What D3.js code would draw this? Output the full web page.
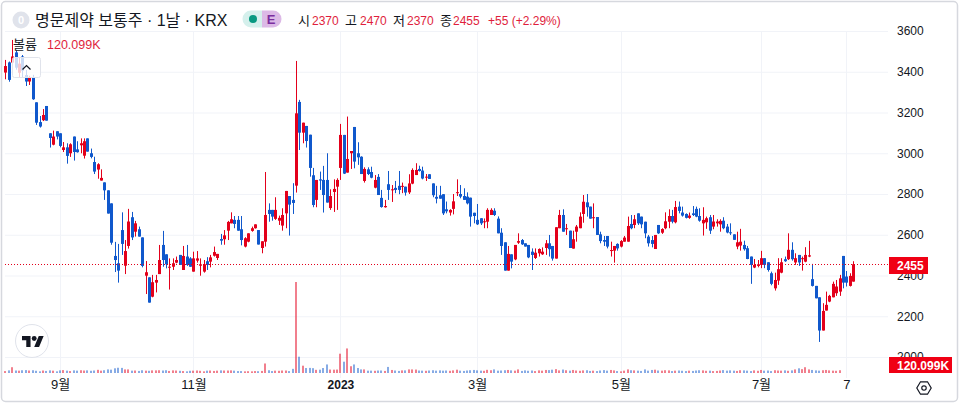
<!DOCTYPE html>
<html>
<head>
<meta charset="utf-8">
<style>
body{margin:0;background:#fff;overflow:hidden}
text{font-family:"Liberation Sans","Noto Sans CJK KR",sans-serif}
</style>
<script src="https://cdn.jsdelivr.net/npm/d3@7"></script>
</head>
<body>
<div id="chart"></div>
<script>
const opens=[3396,3446,3445,3495,3395,3475,3384,3352,3373,3250,3153,3162,3232,3098,3042,3108,3098,3016,3029,3000,3082,3019,3039,2988,3073,3000,2957,2920,2866,2857,2818,2754,2496,2460,2623,2448,2545,2686,2615,2627,2587,2399,2391,2296,2365,2407,2550,2504,2439,2443,2463,2501,2427,2493,2484,2419,2473,2448,2419,2470,2468,2497,2486,2579,2578,2620,2656,2673,2673,2627,2542,2566,2619,2632,2623,2535,2566,2722,2722,2678,2669,2645,2705,2790,2771,2841,3252,3101,3134,3091,2892,2771,2872,2869,2869,2731,2810,2836,2928,3090,2905,3000,3129,3000,2983,2864,2921,2908,2831,2884,2781,2735,2848,2820,2830,2840,2835,2836,2808,2851,2893,2923,2915,2882,2897,2852,2786,2794,2799,2725,2709,2727,2805,2800,2790,2787,2782,2708,2673,2681,2663,2664,2697,2718,2679,2610,2563,2424,2504,2479,2561,2574,2558,2550,2517,2486,2509,2504,2535,2558,2545,2483,2632,2697,2627,2620,2532,2615,2632,2702,2759,2738,2681,2687,2602,2574,2594,2520,2522,2555,2542,2566,2566,2653,2648,2705,2689,2664,2591,2574,2530,2648,2610,2632,2664,2692,2661,2738,2709,2702,2683,2705,2727,2692,2656,2661,2686,2640,2656,2651,2669,2640,2612,2602,2542,2547,2550,2534,2493,2439,2447,2452,2485,2465,2411,2337,2375,2414,2480,2480,2526,2464,2501,2480,2468,2493,2382,2349,2293,2130,2228,2272,2293,2313,2321,2496,2395,2349,2370];
const highs=[3458,3450,3556,3505,3470,3482,3409,3380,3385,3250,3183,3217,3232,3098,3111,3108,3098,3055,3049,3049,3082,3059,3073,3073,3073,3023,2983,2951,2921,2857,2818,2754,2565,2555,2710,2574,2727,2712,2668,2640,2587,2471,2391,2403,2403,2550,2619,2504,2484,2484,2493,2501,2545,2550,2490,2517,2520,2484,2476,2490,2501,2542,2506,2604,2623,2668,2710,2692,2692,2692,2588,2607,2640,2651,2623,2568,2908,2754,2722,2784,2694,2730,2815,2790,2853,3453,3262,3150,3134,3091,2928,2869,2910,2938,3000,2823,2872,2877,3144,3090,3180,3011,3129,3054,2985,2931,2931,2934,2893,2898,2820,2771,2913,2844,2864,2913,2856,2836,2897,2926,2951,2939,2934,2898,2897,2852,2840,2840,2799,2763,2725,2800,2872,2844,2828,2808,2782,2708,2751,2681,2680,2730,2730,2730,2690,2632,2563,2545,2504,2550,2607,2579,2558,2550,2533,2533,2533,2538,2574,2599,2545,2637,2722,2725,2653,2620,2620,2648,2710,2795,2800,2738,2754,2687,2615,2594,2594,2566,2545,2558,2574,2594,2689,2697,2697,2705,2689,2664,2599,2594,2599,2648,2632,2710,2725,2722,2766,2763,2738,2705,2709,2741,2738,2730,2735,2689,2697,2697,2676,2676,2686,2653,2656,2602,2615,2629,2571,2545,2493,2481,2476,2521,2485,2465,2419,2414,2485,2485,2493,2607,2563,2509,2501,2493,2539,2570,2457,2349,2293,2264,2321,2305,2370,2378,2403,2496,2422,2411,2470];
const lows=[3363,3351,3440,3410,3370,3370,3330,3335,3262,3139,3126,3158,3160,3028,3039,3068,3029,3006,2949,2982,2964,3003,3000,2974,3008,2975,2898,2875,2866,2771,2704,2551,2417,2365,2501,2407,2532,2574,2591,2591,2440,2309,2267,2293,2317,2407,2443,2435,2331,2427,2460,2452,2427,2447,2443,2419,2463,2399,2414,2427,2440,2493,2476,2551,2551,2574,2656,2632,2620,2548,2538,2563,2615,2630,2552,2509,2542,2664,2669,2673,2648,2620,2632,2596,2702,2807,3016,3049,3028,2885,2735,2735,2820,2709,2758,2722,2712,2722,2869,2898,2905,2923,2926,2943,2898,2856,2893,2877,2828,2795,2733,2733,2771,2761,2804,2799,2804,2792,2800,2848,2893,2910,2872,2864,2874,2784,2754,2777,2697,2705,2694,2700,2790,2779,2771,2749,2640,2656,2648,2648,2632,2632,2697,2692,2607,2501,2424,2424,2435,2475,2555,2550,2542,2485,2427,2481,2493,2501,2501,2493,2473,2483,2632,2615,2599,2535,2532,2566,2632,2659,2689,2679,2632,2599,2558,2545,2533,2493,2463,2522,2538,2566,2566,2627,2632,2648,2632,2583,2542,2538,2530,2604,2604,2627,2632,2656,2656,2705,2689,2680,2678,2692,2686,2664,2596,2629,2604,2627,2640,2615,2627,2607,2599,2575,2529,2522,2522,2480,2359,2436,2440,2436,2436,2419,2352,2326,2354,2411,2467,2476,2473,2452,2447,2424,2465,2490,2346,2288,2074,2130,2228,2269,2293,2300,2300,2337,2346,2346,2370];
const closes=[3428,3360,3475,3420,3440,3405,3352,3373,3265,3150,3131,3188,3160,3075,3082,3082,3036,3029,2987,3044,3006,3005,3049,3059,3008,2982,2910,2946,2879,2818,2704,2561,2476,2424,2555,2520,2665,2587,2656,2591,2447,2416,2267,2367,2378,2476,2476,2455,2443,2460,2476,2452,2496,2452,2443,2484,2484,2455,2455,2452,2489,2515,2506,2571,2597,2663,2676,2653,2620,2574,2583,2607,2632,2651,2552,2568,2697,2702,2689,2722,2683,2697,2815,2748,2756,3196,3101,3150,3060,2928,2746,2869,2866,2795,2758,2790,2825,2869,3090,2900,2972,3011,2959,2980,2898,2923,2898,2880,2869,2795,2736,2741,2820,2823,2820,2820,2840,2807,2852,2918,2918,2913,2876,2885,2874,2794,2777,2777,2705,2715,2722,2764,2809,2787,2771,2754,2689,2692,2651,2656,2666,2722,2722,2697,2607,2545,2424,2506,2468,2550,2569,2553,2542,2489,2501,2512,2530,2517,2558,2529,2483,2637,2697,2615,2632,2535,2578,2640,2689,2762,2735,2679,2686,2599,2569,2566,2542,2525,2545,2533,2569,2586,2643,2632,2676,2656,2651,2607,2558,2555,2599,2607,2628,2666,2692,2664,2736,2717,2694,2683,2694,2697,2689,2669,2673,2681,2620,2665,2665,2668,2632,2611,2609,2575,2563,2566,2529,2481,2452,2452,2455,2485,2452,2427,2359,2378,2431,2465,2470,2526,2480,2485,2464,2485,2501,2499,2349,2288,2130,2226,2256,2300,2359,2346,2386,2365,2365,2398,2455];
const volumes=[70,95,210,90,85,100,105,90,100,80,60,90,75,95,85,60,95,105,85,70,95,85,100,90,95,80,90,115,85,100,130,120,170,190,185,130,130,85,90,75,100,85,80,95,95,100,90,100,75,95,90,80,70,60,80,85,90,80,60,85,90,75,85,95,90,90,95,85,70,70,60,65,60,70,65,75,345,100,70,85,80,90,90,70,150,3300,590,265,180,185,175,115,120,180,310,125,120,125,700,410,890,245,310,180,130,130,85,85,80,90,90,75,220,110,90,75,95,95,130,130,125,90,85,80,90,100,85,95,85,90,80,95,120,85,75,90,100,110,95,85,80,115,100,130,85,90,100,110,95,85,130,75,95,80,90,70,95,85,110,105,120,140,95,125,100,85,110,90,80,95,100,75,85,70,90,105,85,110,95,70,60,85,130,100,95,85,75,130,85,110,120,90,85,100,95,70,85,90,80,70,85,75,90,100,95,80,85,70,75,90,105,85,95,85,75,100,95,85,70,95,80,110,85,90,70,100,90,85,95,80,95,130,170,140,210,130,110,95,85,100,110,95,85,80,100];
const priceTicks=[3600,3400,3200,3000,2800,2600,2400,2200,2000];
const timeBars=[16,55,98,138,180,221,246];
const timeLabels=['9월','11월','2023','3월','5월','7월','7'];
const lastPrice=2455, lastVolume=120.099;

const width=960, height=404;
const upColor='#e3001b', downColor='#1058cc', textRed='#e01e3c', gridColor='#f1f3f8';

const svg=d3.select('#chart').append('svg').attr('width',width).attr('height',height);
const x=d3.scaleLinear().domain([0,closes.length-1]).range([5.33,853.3]);
const y=d3.scaleLinear().domain([3600,2000]).range([31,357]);
const yVol=d3.scaleLinear().domain([0,3300]).range([373,282]);
const bx=i=>Math.round(x(i));

// grid
svg.append('g').selectAll('line').data(priceTicks).enter().append('line')
  .attr('x1',5).attr('x2',888).attr('y1',d=>y(d)+.5).attr('y2',d=>y(d)+.5)
  .attr('stroke',gridColor);
svg.append('g').selectAll('line').data(timeBars).enter().append('line')
  .attr('x1',d=>bx(d)+.5).attr('x2',d=>bx(d)+.5).attr('y1',31).attr('y2',378)
  .attr('stroke',gridColor);

const idx=d3.range(closes.length);
const col=i=>closes[i]>=opens[i]?upColor:downColor;

// volume
svg.append('g').selectAll('rect').data(idx).enter().append('rect')
  .attr('x',i=>bx(i)-1).attr('width',2)
  .attr('y',i=>yVol(volumes[i])).attr('height',i=>373-yVol(volumes[i]))
  .attr('fill',col).attr('opacity',.5);

// candles
svg.append('g').selectAll('line').data(idx).enter().append('line')
  .attr('x1',i=>bx(i)+.5).attr('x2',i=>bx(i)+.5)
  .attr('y1',i=>y(highs[i])).attr('y2',i=>y(lows[i]))
  .attr('stroke',col);
svg.append('g').selectAll('rect').data(idx).enter().append('rect')
  .attr('x',i=>bx(i)-1).attr('width',3)
  .attr('y',i=>y(Math.max(opens[i],closes[i])))
  .attr('height',i=>Math.max(1,Math.abs(y(opens[i])-y(closes[i]))))
  .attr('fill',col);

// last price line
svg.append('line').attr('x1',5).attr('x2',888)
  .attr('y1',Math.round(y(lastPrice))+.5).attr('y2',Math.round(y(lastPrice))+.5)
  .attr('stroke',upColor).attr('stroke-dasharray','1,2');

// axes
const yAxis=d3.axisRight(y).tickValues(priceTicks).tickSize(0).tickPadding(0).tickFormat(d3.format('d'));
const gy=svg.append('g').attr('transform','translate(897,0)').call(yAxis);
gy.select('.domain').remove();
gy.selectAll('text').attr('font-size',12).attr('fill','#131722');

const xAxis=d3.axisBottom(x).tickValues(timeBars).tickSize(0).tickPadding(0)
  .tickFormat((d,i)=>timeLabels[i]);
const gx=svg.append('g').attr('transform','translate(0,380)').call(xAxis);
gx.select('.domain').remove();
gx.selectAll('text').attr('font-size',(d,i)=>timeLabels[i]==='2023'?12:13).attr('fill','#131722')
  .attr('font-weight',(d,i)=>timeLabels[i]==='2023'?700:400);

// price labels
function priceLabel(top,w,h,txt,tx){
  svg.append('rect').attr('x',889).attr('y',top).attr('width',w).attr('height',h).attr('fill','#f00014');
  svg.append('text').attr('x',tx).attr('y',top+h/2+4.5).attr('fill','#fff').attr('font-size',12).attr('font-weight',700).text(txt);
}
priceLabel(Math.round(y(lastPrice))-7,39,17,String(lastPrice),897);
priceLabel(357,63,16,lastVolume+'K',897);

// settings icon
const gear=svg.append('g').attr('transform','translate(924,388)').attr('fill','none').attr('stroke','#131722').attr('stroke-width',1.2);
gear.append('path').attr('d','M-3.5-6.2h7L7.2 0 3.5 6.2h-7L-7.2 0z');
gear.append('circle').attr('r',2.2);

// logo
svg.append('circle').attr('cx',32).attr('cy',341).attr('r',16.5).attr('fill','#fff').attr('stroke','#e0e3eb');
const logo=svg.append('g').attr('transform','translate(22,333.6) scale(.61)').attr('fill','#131722');
logo.append('path').attr('d','M14 22H7V11H0V4h14v18zM28 22h-8l7.5-18h8L28 22z');
logo.append('circle').attr('cx',20).attr('cy',8).attr('r',4);

// legend
svg.append('circle').attr('cx',21).attr('cy',20).attr('r',8.5).attr('fill','#e0e3eb');
svg.append('text').attr('x',21).attr('y',24).attr('text-anchor','middle').attr('fill','#fff').attr('font-size',11).attr('font-weight',700).text('0');
svg.append('text').attr('x',35).attr('y',26).attr('font-size',16).attr('fill','#131722').text('명문제약 보통주 · 1날 · KRX');

svg.append('path').attr('d','M262 10.5h-11a8.5 8.5 0 0 0 0 17h11z').attr('fill','#d5f0ec');
svg.append('path').attr('d','M262 10.5h11a8.5 8.5 0 0 1 0 17h-11z').attr('fill','#dcb9e6');
svg.append('circle').attr('cx',253).attr('cy',19).attr('r',4).attr('fill','#089981');
svg.append('text').attr('x',271).attr('y',24).attr('text-anchor','middle').attr('fill','#7b2d9e').attr('font-size',13).attr('font-weight',700).text('E');

const ohlcLabels=[['시',298,'2370',312],['고',345,'2470',360],['저',393,'2370',407],['종',440,'2455',453]];
ohlcLabels.forEach(d=>{
  svg.append('text').attr('x',d[1]).attr('y',25).attr('font-size',13).attr('fill','#131722').text(d[0]);
  svg.append('text').attr('x',d[3]).attr('y',25).attr('font-size',12).attr('fill',textRed).text(d[2]);
});
svg.append('text').attr('x',488).attr('y',25).attr('font-size',12).attr('fill',textRed).text('+55 (+2.29%)');

svg.append('text').attr('x',13).attr('y',49).attr('font-size',13).attr('fill','#131722').text('볼륨');
svg.append('text').attr('x',47).attr('y',49).attr('font-size',12.5).attr('fill',textRed).text(lastVolume+'K');

// collapse button
svg.append('rect').attr('x',12.5).attr('y',57.5).attr('width',28).attr('height',20).attr('rx',2)
  .attr('fill','#fff').attr('fill-opacity',.78).attr('stroke','#e0e3eb');
svg.append('path').attr('d','M22.5 69.5l4-4 4 4').attr('fill','none').attr('stroke','#131722').attr('stroke-width',1.2);

// frame
svg.append('rect').attr('x',1.5).attr('y',1.5).attr('width',956).attr('height',400).attr('rx',4)
  .attr('fill','none').attr('stroke','#d6d8de').attr('stroke-width',1.5);
</script>
</body>
</html>
